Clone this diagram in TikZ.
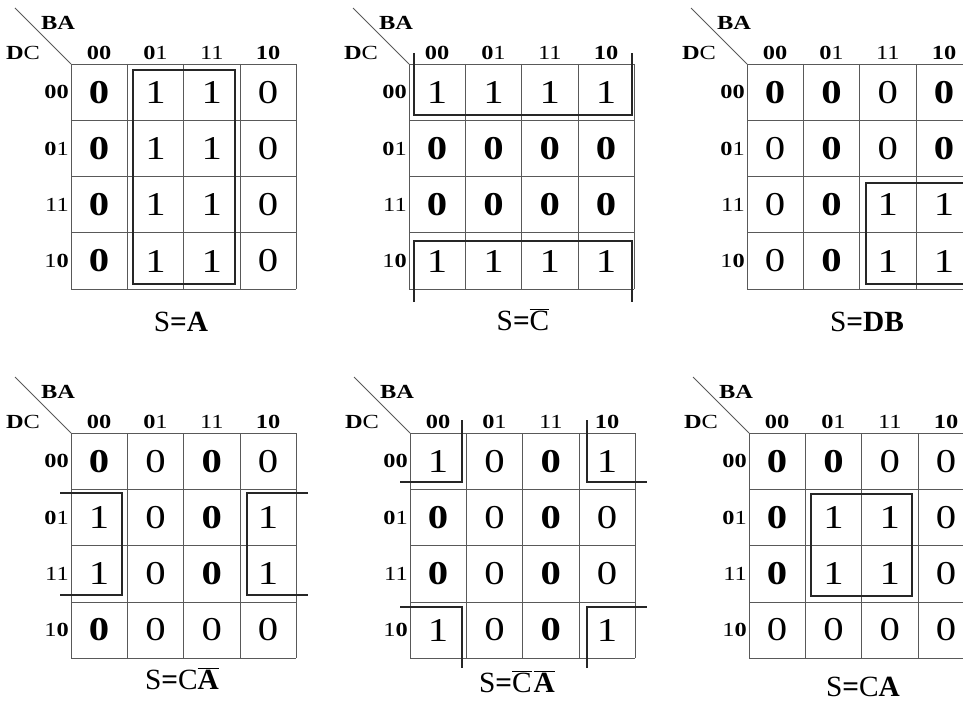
\documentclass[tikz,border=0pt]{standalone}
\usepackage{fontspec}
\setmainfont{Liberation Serif}
\newfontfamily\kfont[FakeStretch=1.22]{Liberation Serif}
\usetikzlibrary{positioning}

% bold zero is written O in the value lists
\newcommand\kval[1]{\if O#1\textbf{0}\else#1\fi}
\newcommand\ovl[1]{$\overline{\hbox{#1}}$}
\newcommand\karnaugh[2]{%
  \foreach \k in {0,...,4} {
    \draw[gridline] (56.3*\k,0) -- (56.3*\k,225.2);
    \draw[gridline] (0,56.3*\k) -- (225.2,56.3*\k);
  }
  \draw[gridline] (-56,-56) -- (0,0);
  \node[corner] (#1-ba) at (-13,-41) {\textbf{BA}};
  \node[corner] (#1-dc) at (-48,-11) {\textbf{D}C};
  \foreach \t [count=\i from 0] in {\textbf{00},\textbf{0}1,11,\textbf{10}}
    \node[head] (#1-c\i) at (28.15+56.3*\i,-11) {\t};
  \foreach \t [count=\j from 0] in {\textbf{00},\textbf{0}1,11,1\textbf{0}}
    \node[head, anchor=east] (#1-r\j) at (-2,28.15+56.3*\j) {\t};
  \foreach \row [count=\j from 0] in {#2}
    \foreach \v [count=\i from 0] in \row
      \node[cell] (#1-\j\i) at (28.15+56.3*\i,28.15+56.3*\j) {\kval{\v}};
}

\begin{document}
\begin{tikzpicture}[x=0.75pt, y=-0.75pt,
    gridline/.style={draw=black!65, line width=0.6pt},
    corner/.style={font=\kfont\fontsize{15}{15}\selectfont, inner sep=0pt},
    head/.style={font=\kfont\fontsize{15}{15}\selectfont, inner sep=0pt},
    cell/.style={font=\kfont\fontsize{25}{25}\selectfont, inner sep=0pt},
    result/.style={font=\fontsize{22}{22}\selectfont, inner sep=0pt},
    kgroup/.style={draw=black!85, line width=1.5pt}]
  \useasboundingbox (0,0) rectangle (963,702);
  \clip (0,0) rectangle (963,702);

  % S = A
  \begin{scope}[shift={(71,64)}]
    \karnaugh{m1}{{O,1,1,0},{O,1,1,0},{O,1,1,0},{O,1,1,0}}
    \draw[kgroup] (62,6) rectangle (164,220);
    \node[result] (m1-s) at (110,258) {S\textbf{=A}};
  \end{scope}

  % S = not C
  \begin{scope}[shift={(409,64)}]
    \karnaugh{m2}{{1,1,1,1},{O,O,O,O},{O,O,O,O},{1,1,1,1}}
    \draw[kgroup] (5,-11) -- (5,51) -- (223,51) -- (223,-11);
    \draw[kgroup] (5,238) -- (5,177) -- (223,177) -- (223,238);
    \node[result] (m2-s) at (114,256) {S\textbf{=}\ovl{C}};
  \end{scope}

  % S = DB
  \begin{scope}[shift={(747,64)}]
    \karnaugh{m3}{{O,O,0,O},{0,O,0,O},{0,O,1,1},{0,O,1,1}}
    \draw[kgroup] (119,119) rectangle (221,220);
    \node[result] (m3-s) at (120,258) {S\textbf{=DB}};
  \end{scope}

  % S = C not A
  \begin{scope}[shift={(71,433)}]
    \karnaugh{m4}{{O,0,O,0},{1,0,O,1},{1,0,O,1},{O,0,0,0}}
    \draw[kgroup] (-11,60) -- (51,60) -- (51,162) -- (-11,162);
    \draw[kgroup] (237,60) -- (176,60) -- (176,162) -- (237,162);
    \node[result] (m4-s) at (111,246) {S\textbf{=}C\ovl{\textbf{A}}};
  \end{scope}

  % S = not C not A
  \begin{scope}[shift={(410,433)}]
    \karnaugh{m5}{{1,0,O,1},{O,0,O,0},{O,0,O,0},{1,0,O,1}}
    \draw[kgroup] (52,-13) -- (52,49) -- (-10,49);
    \draw[kgroup] (177,-13) -- (177,49) -- (237,49);
    \draw[kgroup] (-10,174) -- (52,174) -- (52,235);
    \draw[kgroup] (177,235) -- (177,174) -- (237,174);
    \node[result] (m5-s) at (107,249) {S\textbf{=}\ovl{C}\kern1.5pt\ovl{\textbf{A}}};
  \end{scope}

  % S = CA
  \begin{scope}[shift={(749,433)}]
    \karnaugh{m6}{{O,O,0,0},{O,1,1,0},{O,1,1,0},{0,0,0,0}}
    \draw[kgroup] (62,61) rectangle (163,163);
    \node[result] (m6-s) at (114,254) {S\textbf{=}C\textbf{A}};
  \end{scope}
\end{tikzpicture}
\end{document}
